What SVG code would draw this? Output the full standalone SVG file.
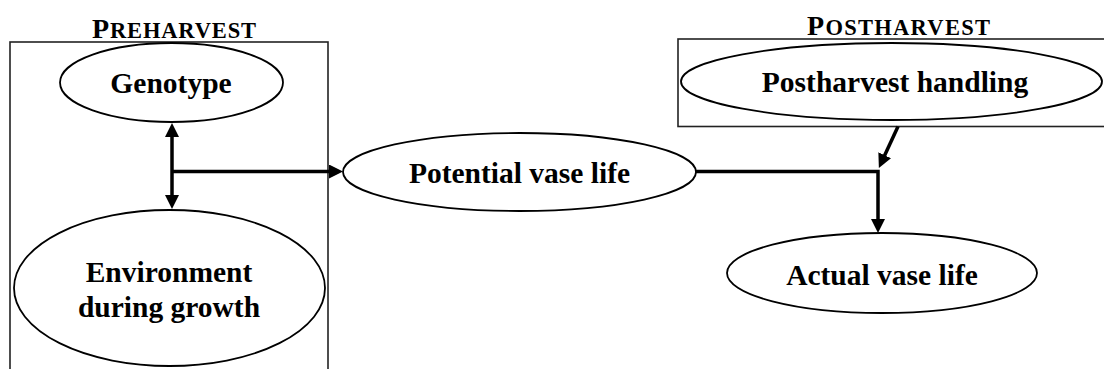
<svg xmlns="http://www.w3.org/2000/svg" width="1104" height="369" viewBox="0 0 1104 369">
  <style>
    .frame { fill: none; stroke: #222; stroke-width: 1.6; }
    .node { fill: #fff; stroke: #000; stroke-width: 1.8; }
    .label { font-family: "Liberation Serif", "Times New Roman", serif; font-weight: bold; font-size: 29.5px; fill: #000; text-anchor: middle; }
    .title { font-family: "Liberation Serif", "Times New Roman", serif; font-weight: bold; fill: #000; }
    .cap { font-size: 28px; }
    .small { font-size: 22.5px; }
    .link { fill: none; stroke: #000; stroke-width: 3.5; stroke-linejoin: miter; }
  </style>
  <defs>
    <marker id="head" markerUnits="userSpaceOnUse" markerWidth="16" markerHeight="16" refX="2" refY="7" orient="auto-start-reverse">
      <path d="M0,0 L14,7 L0,14 Z" fill="#000"/>
    </marker>
  </defs>

  <rect width="1104" height="369" fill="#fff"/>

  <!-- stage frames -->
  <g id="preharvest">
    <rect class="frame" x="10" y="42" width="318" height="345"/>
    <text class="title" x="92" y="38" textLength="164" lengthAdjust="spacing"><tspan class="cap">P</tspan><tspan class="small">REHARVEST</tspan></text>
  </g>
  <g id="postharvest">
    <rect class="frame" x="678" y="39" width="440" height="87.5"/>
    <text class="title" x="807" y="35" textLength="183" lengthAdjust="spacing"><tspan class="cap">P</tspan><tspan class="small">OSTHARVEST</tspan></text>
  </g>

  <!-- connectors -->
  <g id="connectors">
    <line class="link" x1="172" y1="135" x2="172" y2="197" marker-start="url(#head)" marker-end="url(#head)"/>
    <line class="link" x1="172" y1="171.5" x2="331" y2="171.5" marker-end="url(#head)"/>
    <polyline class="link" points="696,171.5 878,171.5 878,221" marker-end="url(#head)"/>
    <line class="link" x1="898" y1="126.5" x2="883.9" y2="157.1" marker-end="url(#head)"/>
  </g>

  <!-- nodes -->
  <g id="genotype">
    <ellipse class="node" cx="171.5" cy="82.5" rx="111.5" ry="39.5"/>
    <text class="label" x="171" y="93">Genotype</text>
  </g>
  <g id="environment">
    <ellipse class="node" cx="169.5" cy="288" rx="155.5" ry="78"/>
    <text class="label" x="169" y="282">Environment</text>
    <text class="label" x="169" y="317">during growth</text>
  </g>
  <g id="potential-vase-life">
    <ellipse class="node" cx="519.5" cy="172" rx="176.5" ry="39"/>
    <text class="label" x="519.5" y="183">Potential vase life</text>
  </g>
  <g id="postharvest-handling">
    <ellipse class="node" cx="891.5" cy="81.5" rx="210.5" ry="38.5"/>
    <text class="label" x="895" y="92">Postharvest handling</text>
  </g>
  <g id="actual-vase-life">
    <ellipse class="node" cx="882" cy="273" rx="155" ry="40"/>
    <text class="label" x="882" y="285">Actual vase life</text>
  </g>
</svg>
